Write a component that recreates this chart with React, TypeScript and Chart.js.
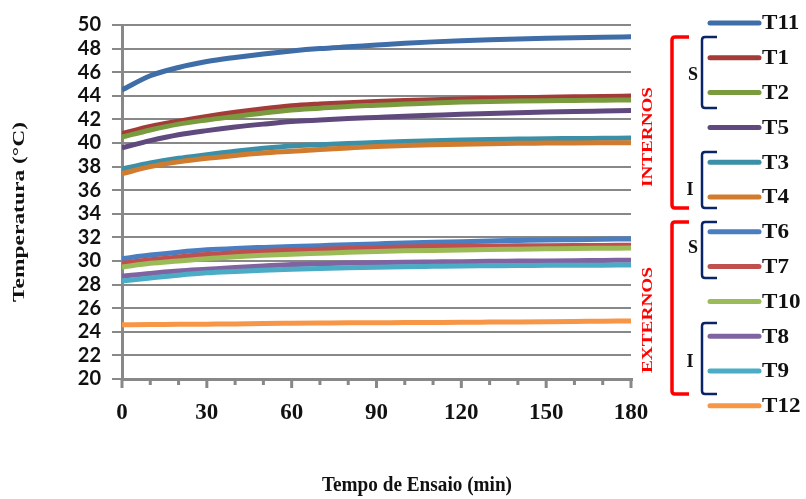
import React, { useEffect, useRef } from "react";
import { Chart, registerables } from "chart.js";

Chart.register(...registerables);

const minutes = [0, 10, 20, 30, 40, 50, 60, 70, 80, 90, 100, 110, 120, 130, 140, 150, 160, 170, 180];
const xTickLabels = [0, 30, 60, 90, 120, 150, 180];
const yMin = 20;
const yMax = 50;
const yStep = 2;

const T1 = [40.8, 41.4, 41.85, 42.25, 42.6, 42.9, 43.15, 43.3, 43.42, 43.52, 43.6, 43.67, 43.73, 43.78, 43.83, 43.87, 43.91, 43.95, 43.98];
const T2 = [40.5, 41.1, 41.6, 41.95, 42.25, 42.55, 42.8, 42.95, 43.1, 43.2, 43.3, 43.4, 43.47, 43.52, 43.56, 43.59, 43.61, 43.63, 43.65];
const T3 = [37.8, 38.3, 38.7, 39.0, 39.3, 39.55, 39.75, 39.85, 39.95, 40.05, 40.13, 40.2, 40.26, 40.3, 40.33, 40.36, 40.38, 40.4, 40.42];
const T4 = [37.4, 38.0, 38.4, 38.7, 38.95, 39.15, 39.3, 39.45, 39.58, 39.7, 39.78, 39.85, 39.9, 39.94, 39.97, 39.99, 40.01, 40.02, 40.03];
const T5 = [39.6, 40.2, 40.7, 41.05, 41.35, 41.6, 41.82, 41.95, 42.07, 42.17, 42.27, 42.35, 42.43, 42.5, 42.56, 42.62, 42.67, 42.71, 42.75];
const T6 = [30.2, 30.5, 30.75, 30.95, 31.07, 31.15, 31.22, 31.3, 31.38, 31.45, 31.52, 31.58, 31.64, 31.7, 31.74, 31.78, 31.81, 31.84, 31.87];
const T7 = [29.8, 30.1, 30.35, 30.55, 30.7, 30.82, 30.92, 31.0, 31.07, 31.13, 31.18, 31.22, 31.25, 31.27, 31.29, 31.3, 31.31, 31.32, 31.33];
const T8 = [28.7, 28.95, 29.15, 29.3, 29.45, 29.58, 29.7, 29.76, 29.82, 29.86, 29.9, 29.92, 29.94, 29.97, 29.99, 30.01, 30.03, 30.05, 30.07];
const T9 = [28.3, 28.55, 28.8, 29.0, 29.12, 29.22, 29.3, 29.37, 29.43, 29.48, 29.52, 29.55, 29.58, 29.6, 29.62, 29.63, 29.64, 29.65, 29.66];
const T10 = [29.5, 29.8, 30.0, 30.2, 30.35, 30.48, 30.58, 30.66, 30.74, 30.8, 30.86, 30.9, 30.93, 30.97, 31.0, 31.03, 31.06, 31.08, 31.1];
const T11 = [44.5, 45.7, 46.4, 46.9, 47.25, 47.55, 47.8, 48.0, 48.15, 48.3, 48.45, 48.57, 48.67, 48.75, 48.82, 48.88, 48.93, 48.97, 49.0];
const T12 = [24.6, 24.62, 24.63, 24.65, 24.67, 24.7, 24.72, 24.74, 24.76, 24.77, 24.78, 24.79, 24.8, 24.82, 24.84, 24.86, 24.88, 24.9, 24.92];

const seriesNames = ["T1", "T2", "T3", "T4", "T5", "T6", "T7", "T8", "T9", "T10", "T11", "T12"];
const seriesValues = [T1, T2, T3, T4, T5, T6, T7, T8, T9, T10, T11, T12];
const seriesColors: Record<string, string> = {
  T1: "#A33B39",
  T2: "#7A9A3E",
  T3: "#3B8FA6",
  T4: "#D17B2F",
  T5: "#60497D",
  T6: "#4A7EC0",
  T7: "#C0504D",
  T8: "#8064A2",
  T9: "#4BACC6",
  T10: "#9BBB59",
  T11: "#3E6DA8",
  T12: "#F79646",
};
const legendOrder = ["T11", "T1", "T2", "T5", "T3", "T4", "T6", "T7", "T10", "T8", "T9", "T12"];

const xTitle = "Tempo de Ensaio (min)";
const yTitle = "Temperatura (°C)";
const groupInternal = "INTERNOS";
const groupExternal = "EXTERNOS";

const SERIF = "'Liberation Serif', 'DejaVu Serif', serif";

function bracket(ctx: CanvasRenderingContext2D, x: number, y1: number, y2: number, arm: number, color: string, w: number) {
  const r = 3;
  ctx.save();
  ctx.strokeStyle = color;
  ctx.lineWidth = w;
  ctx.lineCap = "butt";
  ctx.beginPath();
  ctx.moveTo(x + arm, y1);
  ctx.lineTo(x + r, y1);
  ctx.quadraticCurveTo(x, y1, x, y1 + r);
  ctx.lineTo(x, y2 - r);
  ctx.quadraticCurveTo(x, y2, x + r, y2);
  ctx.lineTo(x + arm, y2);
  ctx.stroke();
  ctx.restore();
}

const decorPlugin = {
  id: "decor",
  afterDraw(chart: any) {
    const ctx: CanvasRenderingContext2D = chart.ctx;
    ctx.save();
    // x-axis tick marks: longer at labelled minutes
    const xs = chart.scales.x;
    const base = chart.chartArea.bottom;
    ctx.strokeStyle = "#888";
    ctx.lineWidth = 3;
    minutes.forEach((m) => {
      const px = xs.getPixelForValue(m);
      const len = xTickLabels.includes(m) ? 9 : 6;
      ctx.beginPath();
      ctx.moveTo(px, base);
      ctx.lineTo(px, base + len);
      ctx.stroke();
    });
    // legend
    legendOrder.forEach((name, i) => {
      const y = 23 + i * 34.8;
      ctx.strokeStyle = seriesColors[name];
      ctx.lineWidth = 5;
      ctx.lineCap = "round";
      ctx.beginPath();
      ctx.moveTo(710, y);
      ctx.lineTo(759, y);
      ctx.stroke();
      ctx.save();
      ctx.fillStyle = "#111";
      ctx.font = `bold 21px ${SERIF}`;
      ctx.textAlign = "left";
      ctx.textBaseline = "middle";
      ctx.translate(762, y + 1);
      ctx.scale(1.1, 1);
      ctx.fillText(name, 0, 0);
      ctx.restore();
    });
    // brackets
    const red = "#FF0000";
    const navy = "#0B2466";
    bracket(ctx, 672, 37, 208, 17, red, 3.5);
    bracket(ctx, 672, 222, 394, 17, red, 3.5);
    bracket(ctx, 702, 37, 108, 15, navy, 2.5);
    bracket(ctx, 702, 152, 208, 15, navy, 2.5);
    bracket(ctx, 702, 222, 278, 15, navy, 2.5);
    bracket(ctx, 702, 323, 394, 15, navy, 2.5);
    ctx.fillStyle = "#111";
    ctx.font = `bold 18px ${SERIF}`;
    ctx.textAlign = "center";
    ctx.textBaseline = "middle";
    ctx.fillText("S", 693, 75);
    ctx.fillText("I", 690, 190);
    ctx.fillText("S", 693, 248);
    ctx.fillText("I", 690, 362);
    // group labels
    const vText = (t: string, cx: number, cy: number, len: number) => {
      ctx.save();
      ctx.fillStyle = red;
      ctx.font = `bold 15px ${SERIF}`;
      const w = ctx.measureText(t).width;
      ctx.translate(cx, cy);
      ctx.rotate(-Math.PI / 2);
      ctx.scale(len / w, 1);
      ctx.textAlign = "center";
      ctx.textBaseline = "middle";
      ctx.fillText(t, 0, 0);
      ctx.restore();
    };
    vText(groupInternal, 648, 137, 100);
    vText(groupExternal, 648, 320, 106);
    // axis titles
    ctx.save();
    ctx.fillStyle = "#111";
    ctx.font = `bold 17px ${SERIF}`;
    const wy = ctx.measureText(yTitle).width;
    ctx.translate(20, 212);
    ctx.rotate(-Math.PI / 2);
    ctx.scale(180 / wy, 1);
    ctx.textAlign = "center";
    ctx.textBaseline = "middle";
    ctx.fillText(yTitle, 0, 0);
    ctx.restore();
    ctx.save();
    ctx.fillStyle = "#111";
    ctx.font = `bold 20px ${SERIF}`;
    const wx = ctx.measureText(xTitle).width;
    ctx.translate(417, 486);
    ctx.scale(190 / wx, 1);
    ctx.textAlign = "center";
    ctx.textBaseline = "middle";
    ctx.fillText(xTitle, 0, 0);
    ctx.restore();
    ctx.restore();
  },
};

export default function App() {
  const ref = useRef<HTMLCanvasElement>(null);
  useEffect(() => {
    if (!ref.current) return;
    const datasets = seriesNames
      .map((name, i) => ({
        label: name,
        data: minutes.map((m, j) => ({ x: m, y: seriesValues[i][j] })),
        borderColor: seriesColors[name],
        backgroundColor: seriesColors[name],
        borderWidth: 5,
        pointRadius: 0,
        fill: false,
        cubicInterpolationMode: "monotone" as const,
      }))
      .reverse();
    const chart = new Chart(ref.current, {
      type: "line",
      data: { datasets },
      options: {
        animation: false,
        responsive: false,
        maintainAspectRatio: false,
        layout: { padding: { left: 0, right: 175, top: 25, bottom: 0 } },
        plugins: { legend: { display: false }, tooltip: { enabled: false }, title: { display: false } },
        scales: {
          x: {
            type: "linear",
            min: 0,
            max: 180,
            afterFit: (s: any) => {
              s.height = 120;
            },
            afterBuildTicks: (s: any) => {
              s.ticks = minutes.map((m) => ({ value: m }));
            },
            ticks: {
              autoSkip: false,
              maxRotation: 0,
              padding: 12,
              color: "#111",
              font: { family: SERIF, size: 23, weight: "bold" },
              callback: (v: any) => (xTickLabels.includes(Number(v)) ? String(v) : ""),
            },
            grid: { drawOnChartArea: false, drawTicks: true, tickLength: 8, color: "rgba(0,0,0,0)", lineWidth: 3 },
            border: { display: true, color: "#888", width: 3 },
          },
          y: {
            min: yMin,
            max: yMax,
            afterFit: (s: any) => {
              s.width = 122;
            },
            ticks: {
              stepSize: yStep,
              autoSkip: false,
              padding: 11,
              color: "#111",
              font: { family: "Lato, 'Liberation Sans', sans-serif", size: 20, weight: "bold" },
            },
            grid: { color: "#888", lineWidth: 2, tickLength: 10 },
            border: { display: true, color: "#888", width: 3 },
          },
        },
      },
      plugins: [decorPlugin],
    });
    return () => chart.destroy();
  }, []);
  return (
    <div style={{ position: "absolute", left: 0, top: 0, width: 806, height: 499, background: "#fff" }}>
      <canvas ref={ref} width={806} height={499} style={{ width: 806, height: 499, display: "block" }} />
    </div>
  );
}
